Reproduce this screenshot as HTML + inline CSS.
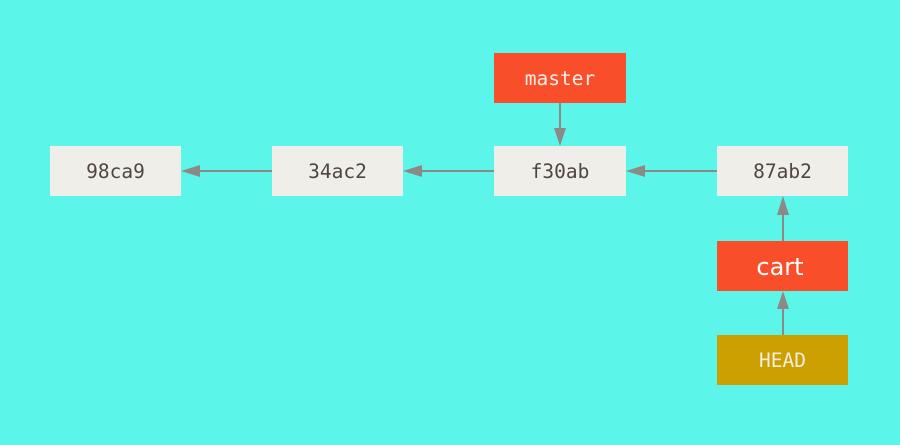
<!DOCTYPE html>
<html><head><style>
body{margin:0;width:900px;height:440px;background:#5bf5e9;overflow:hidden}
</style></head><body>
<svg width="900" height="440" xmlns="http://www.w3.org/2000/svg">
<rect width="900" height="440" fill="#5bf5e9"/>
<g stroke="#8d8a85" stroke-width="2">
<line x1="272" y1="171" x2="198" y2="171"/>
<line x1="494" y1="171" x2="420" y2="171"/>
<line x1="717" y1="171" x2="643" y2="171"/>
<line x1="560" y1="103" x2="560" y2="130"/>
<line x1="783" y1="241" x2="783" y2="213"/>
<line x1="783" y1="335" x2="783" y2="307"/>
</g>
<g fill="#8d8a85">
<polygon points="181,171 200,165 200,177"/>
<polygon points="403,171 422,165 422,177"/>
<polygon points="626,171 645,165 645,177"/>
<polygon points="560,146 554,128 566,128"/>
<polygon points="783,196 777,215 789,215"/>
<polygon points="783,291 777,309 789,309"/>
</g>
<g fill="#f0eee8">
<rect x="50" y="146" width="131" height="50"/>
<rect x="272" y="146" width="131" height="50"/>
<rect x="494" y="146" width="132" height="50"/>
<rect x="717" y="146" width="131" height="50"/>
</g>
<rect x="494" y="53" width="132" height="50" fill="#f84f2a"/>
<rect x="717" y="241" width="131" height="50" fill="#f84f2a"/>
<rect x="717" y="335" width="131" height="50" fill="#cca000"/>
<g font-family="'DejaVu Sans Mono','Liberation Mono',monospace" font-size="19.5" text-anchor="middle" fill="#4e463f">
<text x="115.5" y="178">98ca9</text>
<text x="337.5" y="178">34ac2</text>
<text x="560" y="178">f30ab</text>
<text x="782.5" y="178">87ab2</text>
<text x="560" y="85" fill="#fbeee8">master</text>
<text x="782.5" y="367" fill="#f3ece0">HEAD</text>
</g>
<text x="780" y="275" font-family="'DejaVu Sans','Liberation Sans',sans-serif" font-size="24" text-anchor="middle" fill="#fff">cart</text>
</svg>
</body></html>
